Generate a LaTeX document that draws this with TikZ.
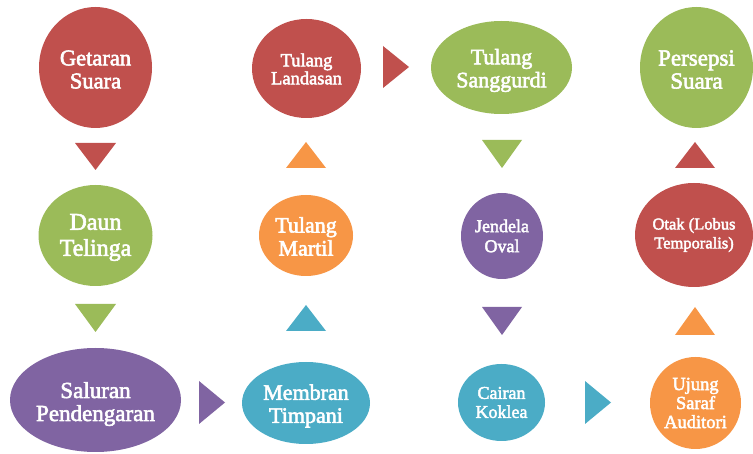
\documentclass[tikz,border=0pt]{standalone}
\usepackage{fontspec}
\setmainfont{Liberation Serif}[FakeBold=2.5]
\usetikzlibrary{shapes.geometric}
\definecolor{cred}{HTML}{C0504D}
\definecolor{cgreen}{HTML}{9BBB59}
\definecolor{cpurple}{HTML}{8064A2}
\definecolor{cblue}{HTML}{4BACC6}
\definecolor{corange}{HTML}{F79646}
\newcommand\fsz[2]{\fontsize{#1}{#2}\selectfont}
\tikzset{
  bub/.style={ellipse, inner sep=0pt},
  lbl/.style={inner sep=0pt, text=white, align=center},
}
% \bubble{name}{x}{y}{w}{h}{colour}{font}{shift}{text}
\newcommand\bubble[9]{%
  \node[bub, fill=#6, minimum width=#4pt, minimum height=#5pt] (#1) at (#2,#3) {};
  \node[lbl, font=#7, yshift=-#8pt] (#1-t) at (#1.center) {#9};
}
\begin{document}
\begin{tikzpicture}[x=1pt,y=-1pt]
\useasboundingbox (0,0) rectangle (753,454);
% row 1
\bubble{getaran}{95.5}{67.5}{113}{121}{cred}{\fsz{22.5}{23}}{2}{Getaran\\Suara}
\bubble{landasan}{306.5}{68.5}{109}{99}{cred}{\fsz{18.5}{18}}{0.5}{Tulang\\Landasan}
\bubble{sanggurdi}{501.5}{67.5}{141}{93}{cgreen}{\fsz{22}{23}}{3}{Tulang\\Sanggurdi}
\bubble{persepsi}{696.5}{67.5}{113}{121}{cgreen}{\fsz{23}{23}}{2}{Persepsi\\Suara}
% row 2
\bubble{daun}{95.5}{235.5}{114}{101}{cgreen}{\fsz{24}{26}}{2}{Daun\\Telinga}
\bubble{martil}{306}{235.5}{94}{81}{corange}{\fsz{22}{23}}{1}{Tulang\\Martil}
\bubble{jendela}{502}{236}{82}{86}{cpurple}{\fsz{18}{20}}{0}{Jendela\\Oval}
\bubble{otak}{694}{235}{118}{104}{cred}{\fsz{16.5}{19}}{0}{Otak (Lobus\\Temporalis)}
% row 3
\bubble{saluran}{95.5}{400}{171}{104}{cpurple}{\fsz{23}{23}}{4}{Saluran\\Pendengaran}
\bubble{membran}{306}{403}{128}{82}{cblue}{\fsz{22}{23}}{3}{Membran\\Timpani}
\bubble{cairan}{501.5}{402.5}{87}{77}{cblue}{\fsz{18}{19}}{0}{Cairan\\Koklea}
\bubble{ujung}{695.5}{403}{91}{92}{corange}{\fsz{18.5}{19}}{0}{Ujung\\Saraf\\Auditori}
% triangles
\fill[cred] (75,143) -- (116,143) -- (95.5,170) -- cycle;
\fill[cgreen] (75,304) -- (116,304) -- (95.5,332) -- cycle;
\fill[cpurple] (199,381) -- (225,402.5) -- (199,424) -- cycle;
\fill[cblue] (286,331) -- (326,331) -- (306,305) -- cycle;
\fill[corange] (286,168) -- (326,168) -- (306,142) -- cycle;
\fill[cred] (383,46) -- (409,67) -- (383,88) -- cycle;
\fill[cgreen] (482,140) -- (522,140) -- (502,168) -- cycle;
\fill[cpurple] (482,307) -- (522,307) -- (502,335) -- cycle;
\fill[cblue] (585,381) -- (611,402.5) -- (585,424) -- cycle;
\fill[corange] (675,335) -- (715,335) -- (695,307) -- cycle;
\fill[cred] (675,168) -- (715,168) -- (695,142) -- cycle;
\end{tikzpicture}
\end{document}
